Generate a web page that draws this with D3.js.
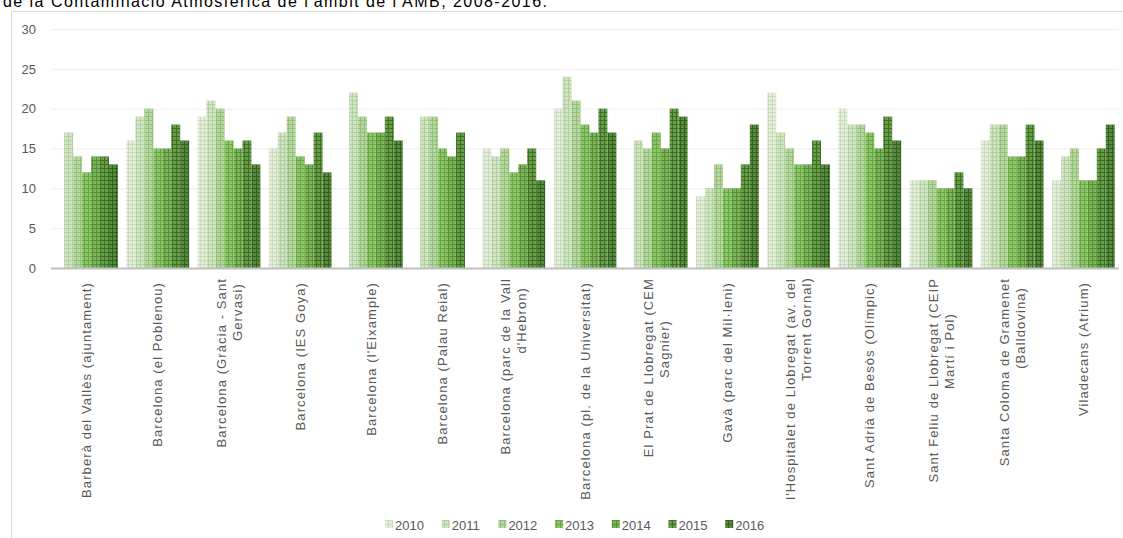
<!DOCTYPE html>
<html><head><meta charset="utf-8">
<script src="https://cdn.jsdelivr.net/npm/d3@7"></script>
<style>
html,body{margin:0;padding:0;background:#fff;}
svg{display:block;font-family:"Liberation Sans",Arial,sans-serif;}
</style></head>
<body>
<svg id="c" width="1123" height="538"></svg>
<script>
const categories = [
  ["Barberà del Vallès (ajuntament)"],
  ["Barcelona (el Poblenou)"],
  ["Barcelona (Gràcia - Sant","Gervasi)"],
  ["Barcelona (IES Goya)"],
  ["Barcelona (l'Eixample)"],
  ["Barcelona (Palau Reial)"],
  ["Barcelona (parc de la Vall","d'Hebron)"],
  ["Barcelona (pl. de la Universitat)"],
  ["El Prat de Llobregat (CEM","Sagnier)"],
  ["Gavà (parc del Mil·leni)"],
  ["l'Hospitalet de Llobregat (av. del","Torrent Gornal)"],
  ["Sant Adrià de Besòs (Olímpic)"],
  ["Sant Feliu de Llobregat (CEIP","Martí i Pol)"],
  ["Santa Coloma de Gramenet","(Balldovina)"],
  ["Viladecans  (Atrium)"]
];
const years = ["2010","2011","2012","2013","2014","2015","2016"];
const y2010 = [null,16,19,15,null,null,15,20,null,9,22,20,11,16,11];
const y2011 = [17,19,21,17,22,19,14,24,16,10,17,18,11,18,14];
const y2012 = [14,20,20,19,19,19,15,21,15,13,15,18,11,18,15];
const y2013 = [12,15,16,14,17,15,12,18,17,10,13,17,10,14,11];
const y2014 = [14,15,15,13,17,14,13,17,15,10,13,15,10,14,11];
const y2015 = [14,18,16,17,19,17,15,20,20,13,16,19,12,18,15];
const y2016 = [13,16,13,12,16,null,11,17,19,18,13,16,10,16,18];
const yTicks = [0,5,10,15,20,25,30];
const caption = "de la Contaminació Atmosfèrica de l'àmbit de l'AMB, 2008-2016.";

// layout: offset (px, along text) of the wrapped second line's end from the label top
const secondLineOffset = {2:5, 6:9, 8:42, 10:-1, 12:35, 13:9};

const series = [y2010,y2011,y2012,y2013,y2014,y2015,y2016];
const fills = [
  ["#e3eedc","#c8dcbb"],
  ["#d2e4c6","#b2d09e"],
  ["#b7d6a3","#92c077"],
  ["#8ec46b","#68a842"],
  ["#7cb35a","#578f37"],
  ["#669d46","#3d7026"],
  ["#568a3c","#335f20"]
];

const svg = d3.select("#c");
const defs = svg.append("defs");
fills.forEach((f,i)=>{
  const p = defs.append("pattern").attr("id","pat"+i).attr("patternUnits","userSpaceOnUse")
    .attr("width",4).attr("height",4);
  p.append("rect").attr("width",4).attr("height",4).attr("fill",f[0]);
  p.append("rect").attr("x",0).attr("y",0).attr("width",4).attr("height",1).attr("fill",f[1]);
  p.append("rect").attr("x",0).attr("y",0).attr("width",1).attr("height",4).attr("fill",f[1]);
});

// caption (cut at top)
svg.append("text").attr("x",3).attr("y",6.5).attr("font-size",16).attr("fill","#000")
  .attr("textLength",544).attr("lengthAdjust","spacing").text(caption);

// chart border
svg.append("path").attr("d","M11.5,538 V11.5 H1123").attr("fill","none").attr("stroke","#d9d9d9").attr("stroke-width",1);

const pLeft=51,pRight=1119,pTop=29,pBottom=268;
const catIdx = categories.map((c,i)=>i);
const x0 = d3.scaleBand().domain(catIdx).range([pLeft,pRight]).paddingInner(0.119).paddingOuter(0.0595);
const x1 = d3.scaleBand().domain(years).range([0,x0.bandwidth()]);
const y = d3.scaleLinear().domain([0,30]).range([pBottom,pTop]);

// gridlines
svg.append("g").selectAll("line").data(yTicks.filter(t=>t>0)).join("line")
  .attr("x1",pLeft).attr("x2",pRight).attr("y1",d=>y(d)+0.5).attr("y2",d=>y(d)+0.5)
  .attr("stroke","#efefef").attr("stroke-width",1);

// y axis labels
const yAxis = d3.axisLeft(y).tickValues(yTicks).tickSize(0).tickPadding(15);
const ga = svg.append("g").attr("transform",`translate(${pLeft},0)`).call(yAxis);
ga.select(".domain").remove();
ga.selectAll("text").attr("font-size",13).attr("fill","#595959").attr("font-family","Liberation Sans, Arial, sans-serif");

// bars
const g = svg.append("g");
categories.forEach((c,ci)=>{
  years.forEach((yr,si)=>{
    const v = series[si][ci];
    if(v==null) return;
    g.append("rect").attr("x",x0(ci)+x1(yr)).attr("width",x1.bandwidth())
      .attr("y",y(v)).attr("height",y(0)-y(v)).attr("fill",`url(#pat${si})`);
  });
});

// baseline
svg.append("line").attr("x1",pLeft).attr("x2",pRight).attr("y1",y(0)+0.5).attr("y2",y(0)+0.5)
  .attr("stroke","#bfbfbf").attr("stroke-width",2);

// x labels
const lx = svg.append("g");
const LS = "1.1px";
categories.forEach((lines,ci)=>{
  const cx = x0(ci)+x0.bandwidth()/2;
  const n = lines.length;
  const lh = 16;
  const t = lx.append("text").attr("transform",`translate(${cx},0) rotate(-90)`)
    .attr("font-size",13).attr("fill","#595959").attr("letter-spacing",LS).attr("text-anchor","end");
  lines.forEach((s,li)=>{
    let endY;
    if(n===1) endY = 282;
    else if(li===0) endY = 278;
    else endY = 278 + (secondLineOffset[ci]||0);
    t.append("tspan").attr("x",-endY)
      .attr("y",(li-(n-1)/2)*lh+4.5).text(s);
  });
});

// legend
const lg = svg.append("g");
years.forEach((yr,i)=>{
  const lx0 = 385 + i*56.7;
  lg.append("rect").attr("x",lx0).attr("y",520).attr("width",8).attr("height",8).attr("fill",`url(#pat${i})`);
  lg.append("text").attr("x",lx0+10).attr("y",529.5).attr("font-size",13).attr("fill","#595959").text(yr);
});
</script>
</body></html>
